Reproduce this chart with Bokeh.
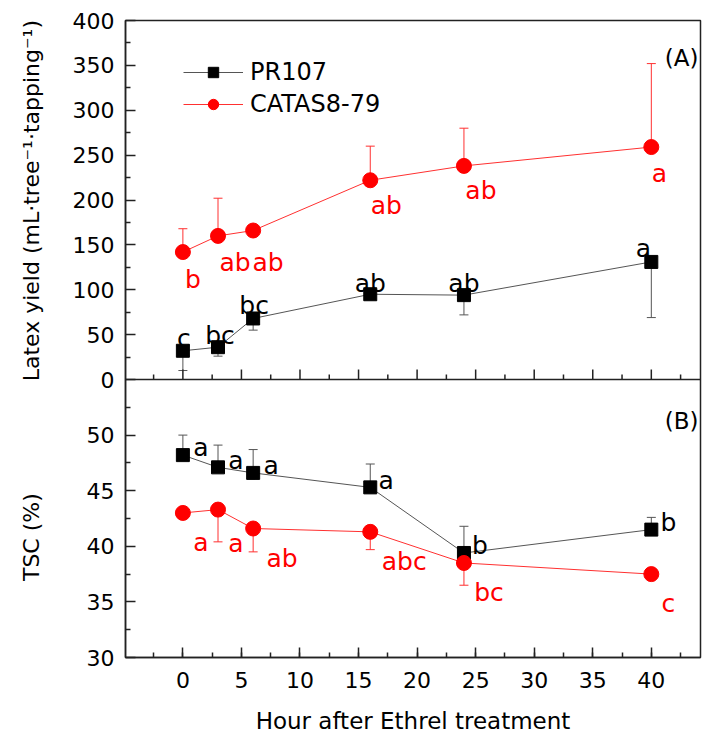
import numpy as np
from bokeh.plotting import figure
from bokeh.models import (ColumnDataSource, Whisker, TeeHead, SingleIntervalTicker,
                          FixedTicker, Legend, LegendItem, Range1d, Span,
                          CustomJSTickFormatter)
from bokeh.core.properties import value
from bokeh.embed import file_html
from bokeh.resources import INLINE

# ---------------- data ----------------
hours = [0, 3, 6, 16, 24, 40]

yield_pr107 = [32, 36, 68, 95, 94, 131]
yield_pr107_err = [22, 10, 13, 4, 22, 62]
yield_catas = [142, 160, 166, 222, 238, 259]
yield_catas_err = [26, 42, 3, 38, 42, 93]
yield_pr107_letters = ["c", "bc", "bc", "ab", "ab", "a"]
yield_catas_letters = ["b", "ab", "ab", "ab", "ab", "a"]

tsc_pr107 = [48.2, 47.1, 46.6, 45.3, 39.4, 41.5]
tsc_pr107_err = [1.8, 2.0, 2.1, 2.1, 2.4, 1.1]
tsc_catas = [43.0, 43.3, 41.6, 41.3, 38.5, 37.5]
tsc_catas_err = [0.3, 2.9, 2.1, 1.6, 2.0, 0.2]
tsc_pr107_letters = ["a", "a", "a", "a", "b", "b"]
tsc_catas_letters = ["a", "a", "ab", "abc", "bc", "c"]

series_names = ["PR107", "CATAS8-79"]
yield_title = "Latex yield (mL\u00b7tree\u207b\u00b9\u00b7tapping\u207b\u00b9)"
tsc_title = "TSC (%)"
x_title = "Hour after Ethrel treatment"

yield_ticks = list(range(0, 401, 50))
yield_minor = list(range(25, 400, 50))
tsc_ticks = [30, 35, 40, 45, 50]
tsc_minor = [32.5, 37.5, 42.5, 47.5, 52.5]
YIELD_MIN, YIELD_MAX = 0, 400
TSC_MIN, TSC_MAX = 30, 55

# ---------------- layout / style ----------------
FONT = "DejaVu Sans"
BLACK = "#000000"
RED = "#ff0000"
LINE_BLACK = "#555555"
LINE_RED = "#ff3030"
AX = "#222222"
W, H = 702, 740
TOP_PX, BOT_PX = 359, 278           # pixel heights of panel A and panel B
X_START, X_END = -4.9, 44.2
NBSP = "\u00a0"

ypp = (YIELD_MAX - YIELD_MIN) / TOP_PX      # yield units per pixel
tpp = (TSC_MAX - TSC_MIN) / BOT_PX          # tsc units per pixel
Y_START = YIELD_MIN - BOT_PX * ypp
TSC_END = TSC_MAX + TOP_PX * tpp


def tsc_to_y(t):
    return Y_START + (np.asarray(t, dtype=float) - TSC_MIN) / tpp * ypp


# label offsets in screen pixels (x right, y down)
off_yield_pr107 = [(1, -12), (2, -12), (1, -13), (0, -11), (0, -12), (-8, -13)]
off_yield_catas = [(10, 27), (17, 27), (15, 32), (16, 25), (17, 25), (8, 26)]
off_tsc_pr107 = [(18, -8), (18, -7), (18, -7), (16, -7), (16, -7), (17, -7)]
off_tsc_catas = [(18, 30), (18, 34), (29, 30), (34, 30), (25, 30), (17, 29)]

p = figure(width=W, height=H, x_range=Range1d(X_START, X_END), y_range=Range1d(Y_START, YIELD_MAX),
           min_border_left=125, min_border_right=2, min_border_top=20, min_border_bottom=83,
           output_backend="svg", toolbar_location=None)
p.extra_y_ranges = {"tsc": Range1d(TSC_MIN, TSC_END)}
p.outline_line_color = AX
p.outline_line_width = 1.5
p.grid.visible = False

for ax in p.axis:
    ax.axis_line_color = AX
    ax.axis_line_width = 1.5
    ax.major_tick_in = 10
    ax.major_tick_out = 0
    ax.minor_tick_in = 5
    ax.minor_tick_out = 0
    ax.major_tick_line_color = AX
    ax.minor_tick_line_color = AX
    ax.major_tick_line_width = 1.5
    ax.minor_tick_line_width = 1.5
    ax.major_label_text_font = FONT
    ax.major_label_text_font_size = "22px"
    ax.major_label_text_color = BLACK
    ax.axis_label_text_font = FONT
    ax.axis_label_text_font_style = "normal"
    ax.axis_label_text_color = BLACK

# x axis
p.xaxis.ticker = SingleIntervalTicker(interval=5, num_minor_ticks=2)
p.xaxis.axis_label = x_title
p.xaxis.axis_label_text_font_size = "23px"
p.xaxis.major_label_standoff = 14
p.xaxis.axis_label_standoff = 17

# left axis: panel A ticks + panel B ticks (mapped into the shared axis)
p.yaxis.ticker = FixedTicker(ticks=yield_ticks + list(tsc_to_y(tsc_ticks)),
                             minor_ticks=yield_minor + list(tsc_to_y(tsc_minor)))
p.yaxis.formatter = CustomJSTickFormatter(
    args=dict(y0=Y_START, ypp=ypp, tpp=tpp, tmin=TSC_MIN),
    code="""
    if (tick >= -1e-6) { return Math.round(tick).toString(); }
    const v = tmin + (tick - y0) / ypp * tpp;
    return Math.round(v).toString();
    """)
p.yaxis.major_label_standoff = 11
# one vertical title line carrying both panel titles (reads bottom to top)
p.yaxis.axis_label = NBSP * 11 + tsc_title + NBSP * 16 + yield_title
p.yaxis.axis_label_text_font_size = "22px"
p.yaxis.axis_label_standoff = 26

# divider between the panels with upward ticks
p.add_layout(Span(location=0, dimension="width", line_color=AX, line_width=1.5))
xt_major = np.arange(0, 41, 5)
xt_minor = np.arange(-2.5, 44, 5)
p.segment(x0=xt_major, x1=xt_major, y0=0, y1=10 * ypp, line_color=AX, line_width=1.5)
p.segment(x0=xt_minor, x1=xt_minor, y0=0, y1=5 * ypp, line_color=AX, line_width=1.5)


def add_series(x, y, err, direction, color, line_color, marker, size, rname="default"):
    ys = np.array(y, dtype=float)
    es = np.array(err, dtype=float)
    if direction == "down":
        lower, upper = ys - es, ys
        heads = dict(lower_head=TeeHead(size=9, line_color=line_color, line_width=1), upper_head=None)
    else:
        lower, upper = ys, ys + es
        heads = dict(upper_head=TeeHead(size=9, line_color=line_color, line_width=1), lower_head=None)
    src = ColumnDataSource(dict(x=x, lower=lower, upper=upper))
    w = Whisker(source=src, base="x", lower="lower", upper="upper",
                line_color=line_color, line_width=1, y_range_name=rname, **heads)
    p.add_layout(w)
    ln = p.line(x, y, line_color=line_color, line_width=1, y_range_name=rname)
    sc = p.scatter(x, y, marker=marker, size=size, fill_color=color, line_color=color,
                   y_range_name=rname)
    return ln, sc


def add_letters(x, y, letters, offsets, color, rname="default"):
    src = ColumnDataSource(dict(x=x, y=y, t=letters,
                                xo=[o[0] for o in offsets], yo=[o[1] for o in offsets]))
    p.text(x="x", y="y", text="t", x_offset="xo", y_offset="yo", source=src,
           text_font=value(FONT), text_font_size="25px", text_color=color,
           text_align="center", text_baseline="alphabetic", y_range_name=rname)


# panel A
l1, s1 = add_series(hours, yield_pr107, yield_pr107_err, "down", BLACK, LINE_BLACK, "square", 13)
l2, s2 = add_series(hours, yield_catas, yield_catas_err, "up", RED, LINE_RED, "circle", 15)
add_letters(hours, yield_pr107, yield_pr107_letters, off_yield_pr107, BLACK)
add_letters(hours, yield_catas, yield_catas_letters, off_yield_catas, RED)
p.text(x=[X_END], y=[YIELD_MAX], text=["(A)"], x_offset=-2, y_offset=37,
       text_font=value(FONT), text_font_size="23px", text_color=BLACK,
       text_align="right", text_baseline="alphabetic")

# panel B
add_series(hours, tsc_pr107, tsc_pr107_err, "up", BLACK, LINE_BLACK, "square", 13, "tsc")
add_series(hours, tsc_catas, tsc_catas_err, "down", RED, LINE_RED, "circle", 15, "tsc")
add_letters(hours, tsc_pr107, tsc_pr107_letters, off_tsc_pr107, BLACK, "tsc")
add_letters(hours, tsc_catas, tsc_catas_letters, off_tsc_catas, RED, "tsc")
p.text(x=[X_END], y=[TSC_MAX], text=["(B)"], x_offset=-2, y_offset=41, y_range_name="tsc",
       text_font=value(FONT), text_font_size="23px", text_color=BLACK,
       text_align="right", text_baseline="alphabetic")

legend = Legend(items=[LegendItem(label=series_names[0], renderers=[l1, s1]),
                       LegendItem(label=series_names[1], renderers=[l2, s2])],
                location=(58, 539), margin=0, padding=0, spacing=4,
                glyph_width=60, glyph_height=26, label_height=26, label_standoff=7,
                label_text_font=FONT, label_text_font_size="24px", label_text_color=BLACK,
                background_fill_alpha=0, border_line_alpha=0)
p.add_layout(legend)

open("out.html", "w").write(file_html(p, INLINE))
